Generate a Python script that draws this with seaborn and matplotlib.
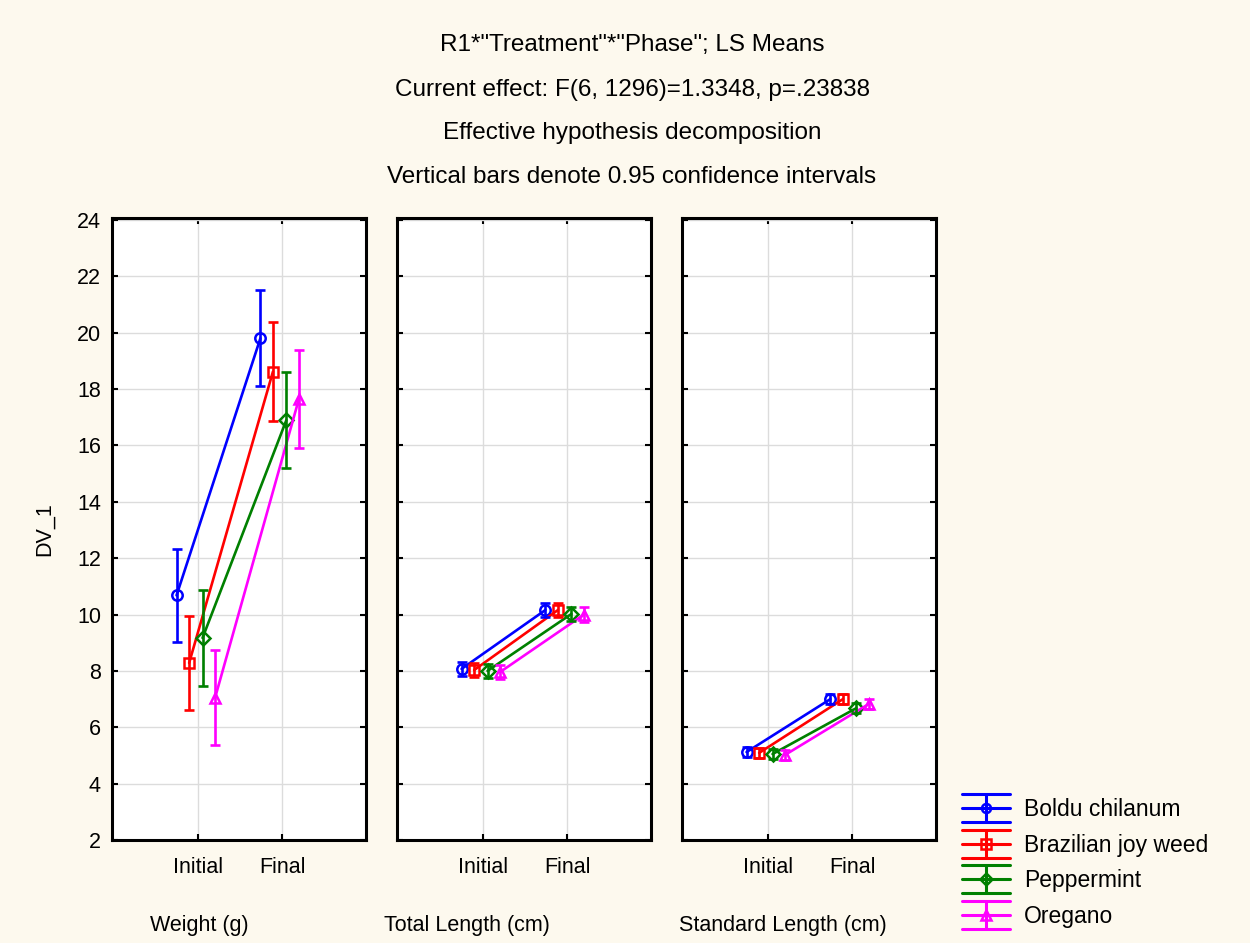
import numpy as np
import pandas as pd
import matplotlib
matplotlib.use("Agg")
import matplotlib.pyplot as plt
from matplotlib.legend_handler import HandlerBase
from matplotlib.lines import Line2D
import seaborn as sns

# ---- data ----
treatments = ["Boldu chilanum", "Brazilian joy weed", "Peppermint", "Oregano"]
phases = ["Initial", "Final"]
variables = ["Weight (g)", "Total Length (cm)", "Standard Length (cm)"]

# means [treatment][phase] per variable
weight_mean = [[10.68, 19.80], [8.28, 18.62], [9.17, 16.90], [7.05, 17.65]]
weight_ci = [[1.65, 1.70], [1.68, 1.75], [1.70, 1.70], [1.68, 1.74]]
total_mean = [[8.07, 10.16], [8.03, 10.16], [8.00, 10.02], [7.96, 10.00]]
total_ci = [[0.25, 0.25], [0.25, 0.25], [0.25, 0.25], [0.25, 0.25]]
std_mean = [[5.12, 7.00], [5.09, 7.00], [5.05, 6.68], [5.02, 6.83]]
std_ci = [[0.17, 0.17], [0.17, 0.17], [0.17, 0.17], [0.17, 0.17]]

colors = ["#0000FF", "#FF0000", "#008000", "#FF00FF"]
markers = ["o", "s", "D", "^"]
offsets = [-0.26, -0.11, 0.05, 0.20]

means_all = [weight_mean, total_mean, std_mean]
cis_all = [weight_ci, total_ci, std_ci]

rows = []
for v, var in enumerate(variables):
    for t, tr in enumerate(treatments):
        for p, ph in enumerate(phases):
            rows.append(dict(variable=var, treatment=tr, phase=ph,
                             x=p + offsets[t], mean=means_all[v][t][p],
                             ci=cis_all[v][t][p]))
df = pd.DataFrame(rows)

sns.set_style("white")
plt.rcParams["font.family"] = ["Liberation Sans", "DejaVu Sans"]
plt.rcParams["text.color"] = "black"
plt.rcParams["axes.labelcolor"] = "black"
plt.rcParams["xtick.color"] = "black"
plt.rcParams["ytick.color"] = "black"

bg = "#FDF9EE"
fig = plt.figure(figsize=(12.5, 9.43), dpi=100, facecolor=bg)

LW = 1.9
lefts = [112, 397, 682]
W, H = 1250, 943
axes = []
for i, var in enumerate(variables):
    ax = fig.add_axes([lefts[i] / W, 1 - 840 / H, 254 / W, 622 / H])
    ax.set_facecolor("white")
    sub = df[df.variable == var]
    sns.lineplot(data=sub, x="x", y="mean", hue="treatment", hue_order=treatments,
                 palette=colors, style="treatment", style_order=treatments,
                 markers=markers, dashes=False, markersize=7.5,
                 markeredgewidth=1.8, linewidth=LW, legend=False, ax=ax, sort=True)
    for line, c in zip(ax.lines, colors):
        line.set_markeredgecolor(c)
        line.set_markerfacecolor("none")
    for t, tr in enumerate(treatments):
        s = sub[sub.treatment == tr]
        ax.errorbar(s["x"], s["mean"], yerr=s["ci"], fmt="none",
                    ecolor=colors[t], elinewidth=LW, capsize=3.8, capthick=LW)
    ax.set_xlim(-1.03, 2.0)
    ax.set_ylim(2, 24.07)
    ax.set_xticks([0, 1])
    ax.set_xticklabels(phases)
    ax.set_yticks(np.arange(2, 25, 2))
    ax.grid(True, color="#DCDCDC", linewidth=1)
    ax.set_axisbelow(True)
    for sp in ax.spines.values():
        sp.set_visible(True)
        sp.set_color("black")
        sp.set_linewidth(2.2)
    ax.tick_params(axis="both", direction="in", length=4, width=1.5,
                   labelsize=15.5, top=True, left=True, right=True, bottom=True)
    ax.tick_params(axis="x", pad=12)
    if i > 0:
        ax.set_yticklabels([])
    else:
        ax.tick_params(axis="y", pad=8)
    ax.set_xlabel("")
    ax.set_ylabel("")
    axes.append(ax)

axes[0].set_ylabel("DV_1", fontsize=15.5, labelpad=16)

# panel labels
label_x = [199, 467, 783]
for lx, var in zip(label_x, variables):
    fig.text(lx / W, 1 - 925 / H, var, ha="center", va="center", fontsize=15.5)

# title lines
titles = ['R1*"Treatment"*"Phase"; LS Means',
          "Current effect: F(6, 1296)=1.3348, p=.23838",
          "Effective hypothesis decomposition",
          "Vertical bars denote 0.95 confidence intervals"]
for ty, tt in zip([45, 90, 133, 177], titles):
    fig.text(632 / W, 1 - ty / H, tt, ha="center", va="center", fontsize=17.5)


class ErrHandler(HandlerBase):
    def __init__(self, color, marker):
        super().__init__()
        self.color = color
        self.marker = marker

    def create_artists(self, legend, orig_handle, xdescent, ydescent,
                       width, height, fontsize, trans):
        cy = height / 2 - ydescent
        half = height * 0.88
        x0, x1 = -xdescent, -xdescent + width
        xm = (x0 + x1) / 2
        arts = []
        for yy in (cy - half, cy, cy + half):
            arts.append(Line2D([x0, x1], [yy, yy], color=self.color, lw=2.2,
                               transform=trans))
        arts.append(Line2D([xm, xm], [cy - half, cy + half], color=self.color,
                           lw=2.2, transform=trans))
        arts.append(Line2D([xm], [cy], marker=self.marker, markersize=6.5,
                           markerfacecolor="none", markeredgecolor=self.color,
                           markeredgewidth=1.8, transform=trans))
        return arts


handles = [Line2D([], [], color=c) for c in colors]
hmap = {h: ErrHandler(c, m) for h, c, m in zip(handles, colors, markers)}
fig.legend(handles, treatments, loc="lower left", handler_map=hmap,
           bbox_to_anchor=(962 / W, 1 - 928 / H), frameon=False,
           borderaxespad=0, borderpad=0,
           fontsize=16.5, handlelength=2.1, labelspacing=0.55, handletextpad=0.62)

fig.savefig("out.png", dpi=100, facecolor=bg)
